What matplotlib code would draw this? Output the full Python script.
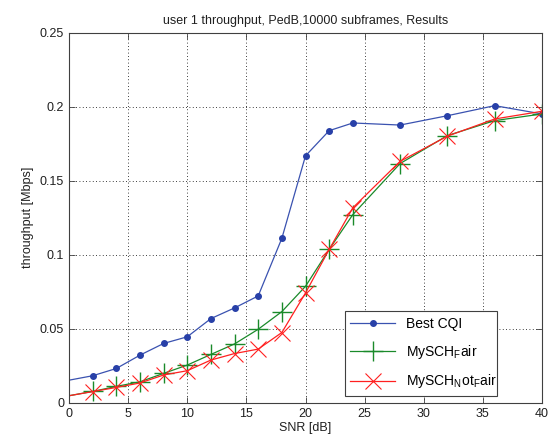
import matplotlib
matplotlib.use("Agg")
import matplotlib.pyplot as plt
import numpy as np

plt.rcParams['font.family'] = ['Liberation Sans', 'DejaVu Sans']
plt.rcParams['mathtext.fontset'] = 'custom'
plt.rcParams['mathtext.rm'] = 'Liberation Sans'
plt.rcParams['mathtext.it'] = 'Liberation Sans'

# SNR values [dB]
snr = [0, 2, 4, 6, 8, 10, 12, 14, 16, 18, 20, 22, 24, 28, 32, 36, 40]

best_cqi = [0.0152, 0.0182, 0.0231, 0.0321, 0.0400, 0.0445, 0.0568, 0.0640,
            0.0721, 0.1110, 0.1667, 0.1837, 0.1889, 0.1875, 0.1938, 0.2006, 0.1950]
sch_fair = [0.0047, 0.0076, 0.0110, 0.0141, 0.0198, 0.0254, 0.0326, 0.0397,
            0.0496, 0.0615, 0.0786, 0.1035, 0.1270, 0.1615, 0.1804, 0.1905, 0.1950]
sch_notfair = [0.0047, 0.0075, 0.0103, 0.0133, 0.0187, 0.0216, 0.0288, 0.0332,
               0.0362, 0.0474, 0.0741, 0.1035, 0.1316, 0.1630, 0.1800, 0.1916, 0.1968]

# no marker drawn at the x=0 edge in the original
marks = list(range(1, len(snr)))

fig = plt.figure(figsize=(5.53, 4.43), dpi=100)
ax = fig.add_axes([69/553, 1 - 402.7/443, (542-69)/553, (402.7-32.5)/443])

ax.plot(snr, best_cqi, color='#3a52b0', lw=0.9, marker='o', ms=4, markevery=marks,
        mfc='#2840a8', mec='#2840a8', label='Best CQI')
ax.plot(snr, sch_fair, color='#1a8a2a', lw=0.9, marker='+', ms=14, mew=1.0,
        markevery=marks, label='MySCH$_\\mathregular{F}$air')
ax.plot(snr, sch_notfair, color='#ff2020', lw=0.9, marker='x', ms=11, mew=0.8,
        markevery=marks, label='MySCH$_\\mathregular{N}$ot$_\\mathregular{F}$air')

ax.set_xlim(0, 40)
ax.set_ylim(0, 0.25)
ax.set_xticks(np.arange(0, 41, 5))
ax.set_yticks([0, 0.05, 0.1, 0.15, 0.2, 0.25])
ax.set_yticklabels(['0', '0.05', '0.1', '0.15', '0.2', '0.25'])
ax.grid(True, color='black', linestyle=(0, (1, 3)), lw=0.6)
ax.tick_params(direction='in', top=True, right=True, labelsize=9, length=4,
               width=0.6, color='#404040', labelcolor='#202020')
for s in ax.spines.values():
    s.set_linewidth(0.8)
    s.set_color('#404040')

ax.set_xlabel('SNR [dB]', fontsize=9, labelpad=2, color='#202020')
ax.set_ylabel('throughput [Mbps]', fontsize=9, color='#202020')
ax.set_title('user 1 throughput, PedB,10000 subframes, Results', fontsize=9,
             color='#202020', pad=6)

leg = ax.legend(loc='lower left', bbox_to_anchor=(0.583, 0.018, 0.322, 0.214),
                mode='expand', fontsize=10, fancybox=False, framealpha=1,
                edgecolor='#404040', handlelength=3.2, borderpad=0.4,
                labelspacing=0.85, borderaxespad=0)
leg.get_frame().set_linewidth(0.8)

fig.savefig('out.png', dpi=100)
